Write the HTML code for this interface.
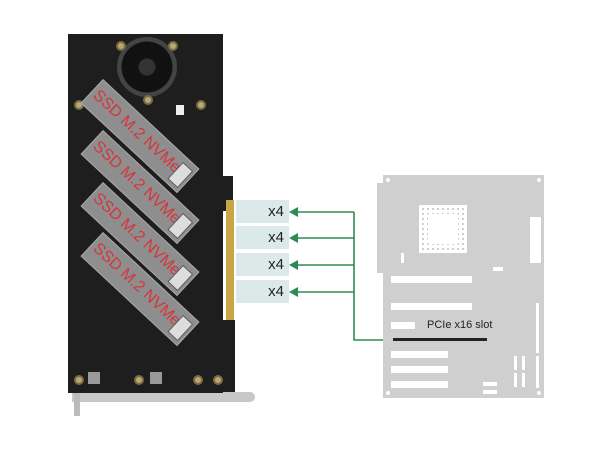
<!DOCTYPE html>
<html><head><style>
body{margin:0;width:600px;height:454px;background:#fff;position:relative;overflow:hidden;font-family:"Liberation Sans",sans-serif}
.a{position:absolute}
.ssd{position:absolute;width:132px;height:33px;background:#8e8e8e;border:1px solid #a8a8a8;transform-origin:0 0;transform:rotate(43deg);box-sizing:border-box}
.ssd span{position:absolute;left:3px;top:6px;font-size:16px;color:#d8343a;white-space:nowrap}
.ssd i{position:absolute;right:2px;top:5px;width:12px;height:21px;background:#ddd;border:1px solid #555}
.hole{position:absolute;width:10px;height:10px;border-radius:50%;background:#b5a776;border:2px solid #7a6c40;box-sizing:border-box}
.box{position:absolute;left:236px;width:53px;height:23px;background:#dbe9e8;font-size:15px;text-align:right;padding-right:5px;box-sizing:border-box;line-height:23px;color:#222}
.w{position:absolute;background:#fff}
</style></head><body>
<div class="a" style="left:72px;top:392px;width:183px;height:10px;background:#c8c8c8;border-radius:0 6px 6px 0"></div>
<div class="a" style="left:74px;top:392px;width:6px;height:24px;background:#bbb"></div>
<div class="a" style="left:68px;top:34px;width:155px;height:359px;background:#1e1e1e"></div>
<div class="a" style="left:220px;top:176px;width:13px;height:35px;background:#1e1e1e"></div>
<div class="a" style="left:220px;top:320px;width:15px;height:72px;background:#1e1e1e"></div>
<div class="a" style="left:226px;top:200px;width:8px;height:120px;background:#c9a645"></div>
<div class="a" style="left:117px;top:37px;width:60px;height:60px;border-radius:50%;background:radial-gradient(circle,#333 0 8px,#111 9px 25px,#444 26px 30px)"></div>
<div class="hole" style="left:116px;top:41px"></div><div class="hole" style="left:168px;top:41px"></div>
<div class="hole" style="left:143px;top:95px"></div>
<div class="hole" style="left:74px;top:100px"></div><div class="hole" style="left:196px;top:100px"></div>
<div class="hole" style="left:74px;top:375px"></div><div class="hole" style="left:134px;top:375px"></div>
<div class="hole" style="left:193px;top:375px"></div><div class="hole" style="left:213px;top:375px"></div>
<div class="a" style="left:176px;top:105px;width:8px;height:10px;background:#eee"></div>
<div class="a" style="left:88px;top:372px;width:12px;height:12px;background:#999"></div>
<div class="a" style="left:150px;top:372px;width:12px;height:12px;background:#999"></div>
<div class="ssd" style="left:103px;top:79px"><span>SSD M.2 NVMe</span><i></i></div>
<div class="ssd" style="left:103px;top:130px"><span>SSD M.2 NVMe</span><i></i></div>
<div class="ssd" style="left:103px;top:182px"><span>SSD M.2 NVMe</span><i></i></div>
<div class="ssd" style="left:103px;top:232px"><span>SSD M.2 NVMe</span><i></i></div>
<div class="box" style="top:200px">x4</div>
<div class="box" style="top:226px">x4</div>
<div class="box" style="top:253px">x4</div>
<div class="box" style="top:280px">x4</div>
<svg class="a" style="left:0;top:0" width="600" height="454">
<g stroke="#2e8a55" stroke-width="1.6" fill="none">
<path d="M354 212V340H384"/>
<path d="M354 212H294M354 238H294M354 265H294M354 292H294"/>
</g>
<g fill="#2e8a55">
<path d="M289 212l9-5v10zM289 238l9-5v10zM289 265l9-5v10zM289 292l9-5v10z"/>
</g>
</svg>
<div class="a" style="left:383px;top:175px;width:161px;height:223px;background:#cfcfcf"></div>
<div class="a" style="left:377px;top:183px;width:7px;height:90px;background:#cfcfcf"></div>
<div class="a" style="left:419px;top:205px;width:48px;height:48px;background:repeating-linear-gradient(90deg,#fff 0 3px,transparent 3px 5px)"></div>
<div class="a" style="left:419px;top:205px;width:48px;height:48px;background:repeating-linear-gradient(0deg,#fff 0 3px,transparent 3px 5px)"></div>
<div class="w" style="left:428px;top:214px;width:30px;height:30px"></div>
<div class="w" style="left:386px;top:178px;width:4px;height:4px;border-radius:50%"></div>
<div class="w" style="left:537px;top:178px;width:4px;height:4px;border-radius:50%"></div>
<div class="w" style="left:386px;top:391px;width:4px;height:4px;border-radius:50%"></div>
<div class="w" style="left:537px;top:391px;width:4px;height:4px;border-radius:50%"></div>
<div class="w" style="left:530px;top:217px;width:11px;height:46px"></div>
<div class="w" style="left:401px;top:253px;width:3px;height:10px"></div>
<div class="w" style="left:493px;top:267px;width:10px;height:4px"></div>
<div class="w" style="left:391px;top:276px;width:81px;height:7px"></div>
<div class="w" style="left:391px;top:303px;width:81px;height:7px"></div>
<div class="w" style="left:391px;top:322px;width:24px;height:7px"></div>
<div class="a" style="left:393px;top:338px;width:94px;height:3px;background:#222"></div>
<div class="a" style="left:427px;top:319px;font-size:11px;color:#222">PCIe x16 slot</div>
<div class="w" style="left:391px;top:351px;width:57px;height:7px"></div>
<div class="w" style="left:391px;top:366px;width:57px;height:7px"></div>
<div class="w" style="left:391px;top:381px;width:57px;height:7px"></div>
<div class="w" style="left:536px;top:303px;width:3px;height:50px"></div>
<div class="w" style="left:536px;top:356px;width:3px;height:32px"></div>
<div class="w" style="left:514px;top:356px;width:3px;height:14px"></div>
<div class="w" style="left:522px;top:356px;width:3px;height:14px"></div>
<div class="w" style="left:514px;top:373px;width:3px;height:14px"></div>
<div class="w" style="left:522px;top:373px;width:3px;height:14px"></div>
<div class="w" style="left:483px;top:382px;width:14px;height:4px"></div>
<div class="w" style="left:483px;top:390px;width:14px;height:4px"></div>
</body></html>
